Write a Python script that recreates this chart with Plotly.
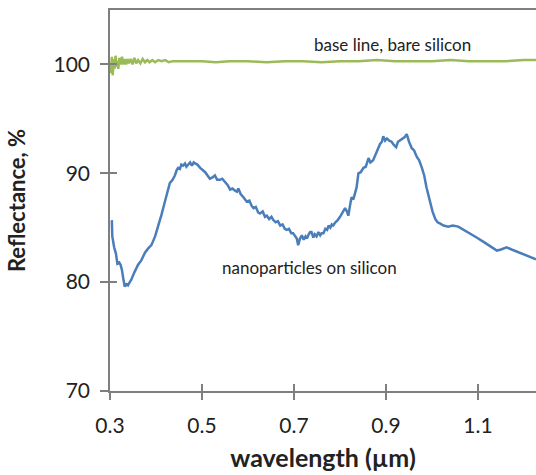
import plotly.graph_objects as go

# Nanoparticles on silicon (blue)
np_x = [0.304, 0.305, 0.309, 0.313, 0.316, 0.320, 0.323, 0.326, 0.329, 0.332, 0.336, 0.339, 0.343, 0.346,
        0.353, 0.361, 0.368, 0.376, 0.383, 0.390, 0.398, 0.405, 0.412, 0.420, 0.425, 0.430, 0.436, 0.441,
        0.445, 0.448, 0.452, 0.455, 0.459, 0.463, 0.466, 0.470, 0.474, 0.478, 0.482, 0.485, 0.490, 0.496,
        0.501, 0.507, 0.512, 0.517, 0.522, 0.528, 0.533, 0.539, 0.544, 0.550, 0.556, 0.561, 0.566, 0.572,
        0.576, 0.579, 0.584, 0.590, 0.597, 0.603, 0.608, 0.612, 0.617, 0.622, 0.626, 0.632, 0.637, 0.641,
        0.646, 0.651, 0.655, 0.660, 0.665, 0.670, 0.675, 0.680, 0.684, 0.689, 0.694, 0.698, 0.703, 0.706,
        0.709, 0.713, 0.717, 0.721, 0.725, 0.728, 0.732, 0.735, 0.738, 0.742, 0.745, 0.749, 0.753, 0.757,
        0.760, 0.764, 0.768, 0.772, 0.775, 0.779, 0.782, 0.785, 0.790, 0.795, 0.800, 0.805, 0.811, 0.815,
        0.818, 0.822, 0.825, 0.829, 0.833, 0.836, 0.840, 0.845, 0.851, 0.856, 0.862, 0.866, 0.872, 0.876,
        0.880, 0.884, 0.887, 0.891, 0.894, 0.898, 0.902, 0.907, 0.912, 0.917, 0.922, 0.926, 0.930, 0.935,
        0.940, 0.945, 0.950, 0.956, 0.961, 0.967, 0.972, 0.978, 0.983, 0.988, 0.992, 0.996, 1.001, 1.007,
        1.012, 1.017, 1.025, 1.035, 1.045, 1.057, 1.070, 1.083, 1.097, 1.112, 1.127, 1.141, 1.150, 1.162,
        1.173, 1.184, 1.193, 1.202, 1.211, 1.220, 1.226]
np_y = [85.7, 84.2, 83.2, 82.6, 81.7, 81.8, 81.6, 81.1, 80.3, 79.6, 79.8, 79.7, 80.0, 80.2,
        80.9, 81.6, 82.0, 82.7, 83.1, 83.4, 84.2, 85.1, 86.2, 87.5, 88.3, 89.1, 89.4, 89.8,
        90.3, 90.5, 90.4, 90.8, 90.7, 90.9, 90.6, 90.8, 91.0, 90.7, 91.0, 90.9, 90.8, 90.5,
        90.3, 90.1, 89.8, 89.5, 89.6, 89.8, 89.4, 89.4, 89.5, 89.2, 88.9, 88.5, 88.6, 88.4,
        88.3, 88.6, 88.1, 87.8, 87.4, 87.5, 87.0, 86.8, 86.9, 86.4, 86.3, 86.5, 86.0, 86.1,
        85.8, 86.0, 85.7, 85.5, 85.6, 85.2, 85.3, 84.9, 84.8, 84.9, 84.5, 84.5, 84.2, 84.0,
        83.4, 84.0, 84.3, 83.9, 84.2, 84.0, 84.4, 84.6, 84.6, 84.1, 84.4, 84.2, 84.6, 84.3,
        84.5, 84.5, 84.9, 84.8, 85.2, 85.0, 85.3, 85.2, 85.5, 85.7, 86.0, 86.4, 86.8, 86.5,
        86.1, 87.1, 87.8, 87.6, 88.3, 88.7, 90.0, 90.1, 90.5, 90.6, 91.4, 91.0, 91.2, 91.6,
        92.1, 92.4, 92.7, 92.9, 93.4, 93.0, 93.2, 93.0, 92.9, 92.6, 92.4, 92.9, 93.0, 93.2,
        93.3, 93.6, 92.9, 92.3, 92.1, 91.5, 91.2, 90.5, 89.8, 88.7, 88.0, 87.4, 86.5, 85.8,
        85.5, 85.4, 85.2, 85.1, 85.2, 85.1, 84.8, 84.5, 84.1, 83.7, 83.3, 82.9, 83.0, 83.2,
        83.0, 82.8, 82.7, 82.5, 82.3, 82.2, 82.1]

# Base line, bare silicon (green)
bl_x = [0.300, 0.302, 0.304, 0.306, 0.308, 0.310, 0.312, 0.314, 0.316, 0.318, 0.320, 0.323, 0.326,
        0.329, 0.332, 0.335, 0.338, 0.341, 0.345, 0.349, 0.353, 0.357, 0.361, 0.366, 0.371, 0.376,
        0.381, 0.386, 0.392, 0.398, 0.405, 0.412, 0.420, 0.428, 0.436, 0.45, 0.47, 0.50, 0.53, 0.56,
        0.60, 0.64, 0.68, 0.72, 0.76, 0.80, 0.84, 0.88, 0.92, 0.96, 1.00, 1.04, 1.08, 1.12, 1.16,
        1.20, 1.226]
bl_y = [100.0, 99.2, 100.7, 99.0, 100.5, 99.6, 100.8, 99.8, 100.3, 99.6, 100.6, 100.0, 100.7,
        100.0, 100.5, 100.0, 100.5, 100.1, 100.5, 100.0, 100.6, 100.1, 100.4, 100.1, 100.5, 100.2,
        100.4, 100.2, 100.4, 100.2, 100.4, 100.3, 100.4, 100.2, 100.3, 100.3, 100.3, 100.3, 100.2, 100.3,
        100.3, 100.2, 100.3, 100.3, 100.2, 100.3, 100.3, 100.4, 100.3, 100.3, 100.3, 100.4, 100.3, 100.3, 100.3,
        100.4, 100.4]

x_ticks = [0.3, 0.5, 0.7, 0.9, 1.1]
y_ticks = [70, 80, 90, 100]
x_range = [0.3, 1.226]
y_range = [70, 105]

FONT = "Lato, Carlito, Calibri, sans-serif"
AX = "#7f7f7f"

fig = go.Figure()
fig.add_trace(go.Scatter(x=bl_x, y=bl_y, mode="lines", line=dict(color="#9BBB59", width=2.5),
                         showlegend=False, hoverinfo="skip"))
fig.add_trace(go.Scatter(x=np_x, y=np_y, mode="lines", line=dict(color="#4A7EBB", width=2.5),
                         showlegend=False, hoverinfo="skip"))
# invisible trace on secondary axes for inside tick marks
fig.add_trace(go.Scatter(x=[x_range[0]], y=[y_range[0]], xaxis="x2", yaxis="y2", mode="markers",
                         marker=dict(opacity=0), showlegend=False, hoverinfo="skip"))

fig.add_annotation(x=0.913, y=101.8, text="base line, bare silicon", showarrow=False,
                   font=dict(family=FONT, size=17, color="#222"))
fig.add_annotation(x=0.733, y=81.3, text="nanoparticles on silicon", showarrow=False,
                   font=dict(family=FONT, size=17, color="#222"))

fig.update_layout(
    width=536, height=475,
    margin=dict(l=110, r=0, t=10, b=84),
    paper_bgcolor="white", plot_bgcolor="white",
    font=dict(family=FONT, color="#222"),
    xaxis=dict(range=x_range, tickvals=x_ticks, ticktext=[str(v) for v in x_ticks],
               showgrid=False, zeroline=False, showline=True, linecolor=AX, linewidth=1.5,
               mirror=True, ticks="outside", ticklen=7, tickcolor=AX, tickwidth=1.5,
               ticklabelstandoff=8,
               tickfont=dict(size=21, family=FONT),
               title=dict(text="<b>wavelength (µm)</b>", font=dict(size=25, family=FONT), standoff=14)),
    yaxis=dict(range=y_range, tickvals=y_ticks, showgrid=False, zeroline=False, showline=True,
               linecolor=AX, linewidth=1.5, ticks="outside", ticklen=8, tickcolor=AX, tickwidth=1.5,
               ticklabelstandoff=6,
               tickfont=dict(size=21, family=FONT),
               title=dict(text="<b>Reflectance, %</b>", font=dict(size=22, family=FONT), standoff=22)),
    xaxis2=dict(range=x_range, overlaying="x", tickvals=x_ticks, showticklabels=False,
                ticks="inside", ticklen=7, tickcolor=AX, tickwidth=1.5, showgrid=False,
                zeroline=False, showline=False, side="bottom"),
    yaxis2=dict(range=y_range, overlaying="y", tickvals=y_ticks, showticklabels=False,
                ticks="inside", ticklen=7, tickcolor=AX, tickwidth=1.5, showgrid=False,
                zeroline=False, showline=False, side="left"),
)

fig.write_html("out.html", config={"displayModeBar": False},
               post_script="document.body.style.margin='0';document.body.style.overflow='hidden';")
